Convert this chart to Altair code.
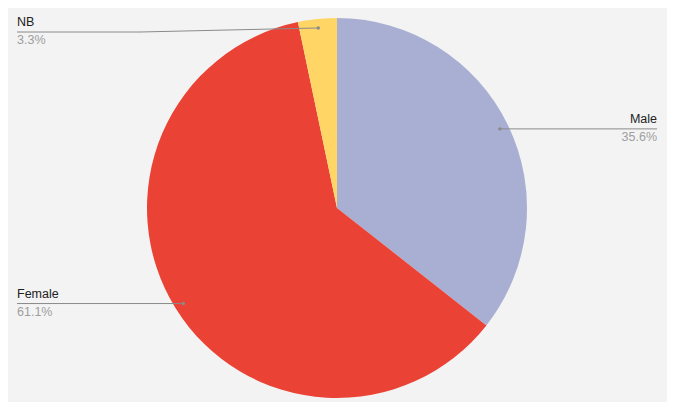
import math
import altair as alt
import pandas as pd

labels = ["Male", "Female", "NB"]
values = [35.6, 61.1, 3.3]
pct_text = ["35.6%", "61.1%", "3.3%"]
colors = ["#a9afd3", "#ea4335", "#ffd666"]

# layout (chart coords = page coords - 8)
W, H = 659, 394
CX, CY, R = 329, 200, 190
DOT_R = 181
LEFT_X, RIGHT_X = 9, 649
MIN_Y = 24
ELBOW_DX = 123

total = sum(values)
pie = pd.DataFrame({"label": labels, "value": values, "order": range(len(labels))})

rows_dot, rows_line, rows_txt = [], [], []
cum = 0.0
for i, (lab, v) in enumerate(zip(labels, values)):
    mid = (cum + v / 2) / total * 2 * math.pi
    cum += v
    dx, dy = CX + DOT_R * math.sin(mid), CY - DOT_R * math.cos(mid)
    right = math.sin(mid) > 0
    ax = RIGHT_X if right else LEFT_X
    ly = max(dy, MIN_Y)
    rows_dot.append({"label": lab, "x": dx, "y": dy})
    pts = [(dx, dy)]
    if abs(ly - dy) > 0.5:
        pts.append((ax + ELBOW_DX if not right else ax - ELBOW_DX, ly))
    pts.append((ax, ly))
    for k, (px, py) in enumerate(pts):
        rows_line.append({"label": lab, "k": k, "x": px, "y": py})
    rows_txt.append({"label": lab, "pct": pct_text[i], "x": ax, "y": ly,
                     "side": "right" if right else "left"})

dots = pd.DataFrame(rows_dot)
lines = pd.DataFrame(rows_line)
txt = pd.DataFrame(rows_txt)

color_scale = alt.Scale(domain=labels, range=colors)

arc = alt.Chart(pie).mark_arc(outerRadius=R).encode(
    theta=alt.Theta("value:Q", stack=True),
    order=alt.Order("order:Q"),
    color=alt.Color("label:N", scale=color_scale, legend=None),
    x=alt.value(CX), y=alt.value(CY),
)

X = lambda f: alt.X(f, type="quantitative", scale=None, axis=None)
Y = lambda f: alt.Y(f, type="quantitative", scale=None, axis=None)

line = alt.Chart(lines).mark_line(color="#8a8a8a", strokeWidth=1).encode(
    x=X("x"), y=Y("y"), detail="label:N", order="k:Q")

dot = alt.Chart(dots).mark_circle(color="#8a8a8a", size=12, opacity=1).encode(
    x=X("x"), y=Y("y"))

txt_r = txt[txt["side"] == "right"]
txt_l = txt[txt["side"] == "left"]

def texts(df, align):
    name = alt.Chart(df).mark_text(align=align, baseline="bottom", dy=-3,
                                   font="Liberation Sans", fontSize=12.5,
                                   color="#222222").encode(
        x=X("x"), y=Y("y"), text="label:N")
    pct = alt.Chart(df).mark_text(align=align, baseline="top", dy=2,
                                  font="Liberation Sans", fontSize=12.5,
                                  color="#9e9e9e").encode(
        x=X("x"), y=Y("y"), text="pct:N")
    return name + pct

chart = alt.layer(arc, line, dot, texts(txt_r, "right"), texts(txt_l, "left")).properties(
    width=W, height=H, padding=0, background="#f3f3f3",
    autosize=alt.AutoSizeParams(type="none"),
).configure_view(stroke=None)

chart.save("out.html", embed_options={"renderer": "svg", "actions": False})
